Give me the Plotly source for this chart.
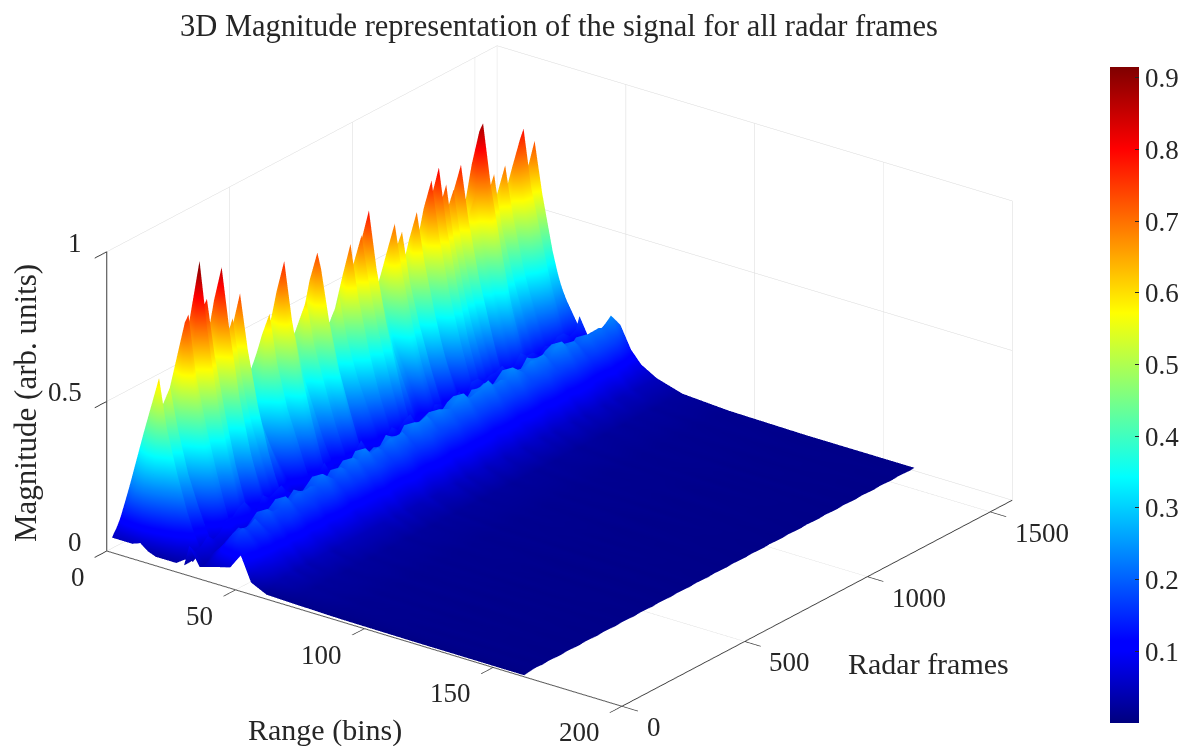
import plotly.graph_objects as go

TITLE = "3D Magnitude representation of the signal for all radar frames"
range_ticks = [0, 50, 100, 150, 200]
frame_ticks = [0, 500, 1000, 1500]
magnitude_ticks = [0, 0.5, 1]
colorbar_ticks = [.1, .2, .3, .4, .5, .6, .7, .8, .9]

# Spiky part of the surface: finer frame spacing
near_bins = [2, 6, 10, 13, 16, 19, 23, 27, 32]
near_frames = list(range(0, 1591, 15))
near_r02 = [.05,.07,.09,.11,.09,.09,.11,.08,.08,.10,
            .12,.12,.10,.12,.14,.12,.12,.10,.10,.11,
            .14,.11,.10,.11,.10,.12,.10,.09,.09,.08,
            .08,.09,.10,.11,.09,.10,.12,.12,.10,.10,
            .10,.09,.10,.11,.10,.10,.12,.12,.10,.08,
            .08,.10,.10,.10,.11,.12,.10,.11,.12,.11,
            .13,.11,.11,.10,.10,.09,.12,.12,.11,.12,
            .10,.09,.11,.12,.10,.10,.11,.13,.11,.14,
            .12,.12,.11,.12,.12,.13,.10,.10,.12,.12,
            .14,.14,.12,.12,.12,.11,.12,.12,.11,.12,
            .12,.13,.13,.12,.12,.12,.09]
near_r06 = [.05,.15,.22,.26,.22,.22,.26,.20,.20,.24,
            .30,.32,.26,.30,.36,.32,.30,.26,.24,.28,
            .36,.28,.26,.28,.26,.30,.26,.22,.22,.20,
            .20,.22,.26,.28,.22,.24,.30,.32,.24,.26,
            .24,.22,.24,.28,.26,.24,.32,.30,.24,.20,
            .20,.24,.26,.24,.28,.30,.26,.28,.32,.28,
            .34,.28,.28,.24,.24,.22,.30,.30,.28,.30,
            .24,.22,.28,.30,.26,.24,.28,.34,.28,.36,
            .30,.32,.28,.32,.30,.34,.26,.26,.30,.30,
            .36,.38,.30,.30,.32,.28,.30,.32,.28,.30,
            .32,.32,.34,.30,.30,.32,.24]
near_r10 = [.05,.22,.30,.40,.32,.34,.40,.32,.30,.38,
            .50,.52,.42,.48,.60,.52,.50,.42,.38,.44,
            .58,.46,.40,.46,.42,.50,.40,.34,.34,.30,
            .28,.34,.42,.44,.34,.36,.48,.52,.38,.40,
            .38,.32,.36,.44,.40,.38,.50,.46,.36,.30,
            .30,.36,.40,.36,.42,.48,.40,.42,.50,.44,
            .54,.42,.42,.36,.36,.34,.46,.48,.42,.46,
            .36,.34,.42,.48,.40,.36,.44,.54,.44,.56,
            .46,.50,.42,.50,.46,.54,.40,.38,.46,.48,
            .58,.60,.46,.46,.48,.42,.46,.48,.42,.46,
            .50,.52,.54,.46,.48,.50,.38]
near_r13 = [.06,.24,.36,.50,.38,.40,.48,.36,.34,.46,
            .62,.66,.50,.60,.76,.66,.64,.50,.44,.54,
            .74,.56,.46,.58,.50,.62,.46,.38,.40,.32,
            .30,.38,.50,.54,.40,.40,.60,.66,.44,.46,
            .44,.36,.40,.52,.46,.44,.64,.58,.40,.34,
            .32,.40,.48,.42,.50,.60,.46,.50,.62,.54,
            .68,.50,.50,.42,.40,.38,.56,.60,.50,.58,
            .40,.38,.50,.60,.46,.40,.52,.68,.52,.70,
            .54,.64,.50,.62,.54,.68,.46,.44,.54,.58,
            .74,.76,.54,.54,.60,.48,.54,.60,.50,.54,
            .62,.66,.68,.54,.58,.62,.44]
near_r16 = [.04,.20,.38,.60,.42,.44,.55,.40,.36,.52,
            .74,.76,.58,.72,.92,.76,.78,.55,.50,.62,
            .86,.66,.52,.67,.56,.74,.52,.40,.43,.36,
            .32,.42,.55,.62,.44,.46,.70,.77,.50,.52,
            .50,.40,.44,.60,.50,.52,.74,.68,.46,.38,
            .36,.44,.55,.44,.58,.71,.52,.58,.72,.62,
            .79,.56,.58,.46,.44,.40,.66,.70,.56,.66,
            .44,.42,.58,.70,.52,.42,.60,.78,.58,.81,
            .60,.74,.56,.71,.60,.78,.52,.48,.62,.66,
            .86,.88,.62,.60,.69,.54,.60,.70,.56,.60,
            .72,.76,.79,.62,.66,.73,.49]
near_r19 = [.03,.14,.28,.44,.30,.34,.42,.28,.26,.40,
            .58,.56,.42,.54,.70,.58,.60,.42,.36,.48,
            .66,.50,.38,.50,.42,.56,.38,.30,.32,.26,
            .24,.32,.42,.46,.32,.36,.54,.58,.38,.40,
            .38,.30,.34,.46,.38,.40,.56,.52,.34,.28,
            .28,.34,.42,.34,.44,.54,.40,.44,.56,.48,
            .60,.42,.44,.34,.34,.32,.50,.54,.42,.50,
            .34,.32,.44,.54,.40,.32,.46,.60,.44,.62,
            .46,.56,.44,.54,.46,.60,.40,.36,.48,.50,
            .66,.68,.48,.46,.52,.42,.46,.54,.44,.46,
            .56,.58,.60,.48,.50,.56,.41]
near_r23 = [.03,.09,.18,.30,.20,.22,.28,.20,.18,.28,
            .38,.40,.30,.36,.46,.40,.42,.30,.26,.32,
            .44,.34,.28,.34,.30,.38,.28,.22,.24,.20,
            .18,.24,.30,.32,.24,.28,.38,.40,.26,.28,
            .28,.22,.26,.34,.28,.30,.40,.36,.26,.22,
            .22,.26,.30,.26,.32,.38,.30,.32,.40,.34,
            .42,.32,.32,.26,.26,.24,.36,.38,.30,.36,
            .26,.24,.32,.38,.30,.24,.34,.42,.32,.44,
            .34,.40,.32,.38,.34,.42,.30,.28,.36,.36,
            .46,.48,.36,.34,.38,.32,.34,.38,.32,.36,
            .40,.42,.44,.36,.36,.38,.30]
near_r27 = [.03,.06,.10,.18,.12,.14,.18,.12,.12,.18,
            .24,.26,.18,.22,.30,.26,.26,.18,.16,.20,
            .28,.22,.18,.22,.20,.24,.18,.14,.16,.14,
            .12,.16,.20,.22,.16,.18,.24,.26,.18,.18,
            .18,.14,.16,.22,.18,.20,.26,.24,.16,.14,
            .14,.18,.20,.18,.20,.24,.20,.22,.26,.22,
            .28,.20,.22,.18,.16,.16,.24,.24,.20,.24,
            .18,.16,.20,.24,.20,.16,.22,.28,.22,.28,
            .22,.26,.22,.24,.22,.28,.20,.18,.24,.24,
            .30,.30,.24,.22,.24,.22,.22,.24,.22,.24,
            .26,.28,.28,.24,.24,.24,.22]
near_r32 = [.06,.04,.05,.06,.05,.05,.07,.05,.06,.07,
            .09,.10,.07,.09,.12,.10,.10,.07,.07,.08,
            .11,.09,.07,.09,.08,.10,.07,.06,.06,.05,
            .05,.06,.08,.09,.06,.07,.10,.10,.07,.07,
            .07,.06,.07,.09,.07,.08,.10,.10,.07,.05,
            .05,.07,.08,.07,.08,.10,.08,.09,.10,.09,
            .11,.08,.09,.07,.06,.06,.10,.10,.08,.10,
            .07,.06,.08,.10,.08,.06,.09,.11,.09,.11,
            .09,.10,.09,.10,.09,.11,.08,.07,.10,.10,
            .12,.12,.10,.09,.10,.09,.09,.10,.09,.10,
            .10,.11,.11,.10,.10,.11,.14]
near_magnitude = [near_r02, near_r06, near_r10, near_r13, near_r16, near_r19, near_r23,
                  near_r27, near_r32]

# Low part of the surface
far_bins = [30, 32, 36, 40, 44, 48, 52, 56, 62, 72, 90, 120, 162]
far_frames = [0, 25, 50, 75, 100, 125, 150, 175, 200, 225, 250, 275, 300,
              325, 350, 375, 400, 425, 450, 475, 500, 525, 550, 575, 600, 625,
              650, 675, 700, 725, 750, 775, 800, 825, 850, 875, 900, 925, 950,
              975, 1000, 1025, 1050, 1075, 1100, 1125, 1150, 1175, 1200, 1225, 1250, 1275,
              1300, 1325, 1350, 1375, 1400, 1425, 1450, 1475, 1500, 1525, 1550, 1575, 1590]
far_r030 = [.03,.03,.04,.04,.03,.04,.04,.03,.04,.04,.03,.04,.04,
            .03,.04,.04,.03,.03,.03,.04,.04,.03,.04,.03,.04,.03,
            .04,.03,.04,.03,.03,.04,.03,.04,.04,.04,.04,.03,.03,
            .03,.04,.04,.03,.04,.04,.03,.04,.04,.04,.04,.04,.04,
            .03,.04,.04,.04,.04,.03,.04,.04,.04,.04,.04,.04,.04]
far_r032 = [.10,.07,.08,.10,.08,.09,.12,.12,.14,.15,.12,.10,.14,
            .12,.13,.14,.11,.09,.08,.11,.12,.11,.14,.10,.11,.09,
            .12,.12,.15,.11,.09,.12,.11,.14,.12,.14,.15,.11,.11,
            .09,.14,.13,.10,.12,.14,.10,.15,.15,.13,.14,.14,.15,
            .12,.13,.16,.14,.14,.12,.14,.13,.15,.15,.13,.14,.18]
far_r036 = [.04,.04,.06,.05,.06,.06,.08,.07,.08,.09,.08,.07,.08,
            .07,.08,.08,.07,.06,.06,.07,.07,.06,.08,.06,.07,.06,
            .07,.07,.08,.07,.06,.07,.07,.08,.07,.08,.08,.07,.07,
            .06,.08,.07,.06,.07,.08,.07,.08,.09,.08,.08,.08,.08,
            .07,.08,.09,.08,.08,.07,.08,.07,.08,.09,.08,.08,.11]
far_r040 = [.05,.08,.10,.09,.11,.10,.12,.11,.12,.13,.12,.11,.12,
            .11,.12,.13,.12,.11,.12,.11,.12,.12,.13,.12,.12,.11,
            .12,.13,.12,.12,.13,.12,.13,.14,.13,.12,.13,.14,.13,
            .12,.13,.14,.13,.12,.13,.14,.13,.14,.13,.14,.13,.14,
            .13,.14,.15,.14,.13,.14,.13,.14,.13,.12,.12,.12,.11]
far_r044 = [.06,.13,.15,.16,.14,.15,.18,.15,.17,.19,.16,.17,.19,
            .16,.18,.20,.17,.16,.19,.18,.20,.17,.21,.18,.18,.19,
            .18,.21,.18,.18,.21,.20,.19,.20,.21,.20,.19,.21,.22,
            .20,.18,.21,.20,.21,.18,.20,.22,.19,.20,.19,.22,.20,
            .19,.21,.22,.19,.20,.18,.20,.19,.19,.18,.18,.16,.15]
far_r048 = [.07,.15,.18,.16,.19,.16,.20,.18,.18,.21,.18,.20,.19,
            .20,.19,.22,.20,.18,.21,.19,.22,.20,.23,.20,.21,.19,
            .22,.21,.22,.19,.23,.22,.23,.20,.23,.22,.21,.23,.24,
            .21,.22,.22,.24,.21,.22,.21,.24,.22,.20,.23,.22,.23,
            .20,.23,.24,.21,.22,.19,.22,.21,.22,.21,.24,.21,.19]
far_r052 = [.12,.12,.14,.13,.15,.14,.15,.14,.16,.16,.15,.15,.16,
            .15,.16,.17,.16,.15,.16,.16,.17,.16,.17,.17,.16,.16,
            .17,.17,.16,.16,.17,.18,.17,.17,.17,.18,.17,.17,.18,
            .17,.17,.17,.18,.17,.17,.17,.18,.17,.17,.17,.18,.17,
            .17,.17,.18,.17,.17,.16,.17,.17,.17,.17,.16,.14,.12]
far_r056 = [.04,.07,.08,.09,.09,.09,.10,.09,.10,.10,.09,.10,.10,
            .09,.10,.10,.10,.09,.10,.10,.10,.10,.11,.10,.10,.10,
            .11,.11,.10,.10,.11,.11,.11,.10,.11,.11,.11,.11,.11,
            .11,.10,.11,.11,.11,.10,.11,.11,.11,.10,.11,.11,.11,
            .10,.11,.11,.11,.10,.10,.10,.11,.10,.10,.09,.09,.08]
far_r062 = [.015,.03,.04,.04,.05,.04,.05,.04,.05,.05,.05,.04,.05,
            .05,.05,.05,.05,.05,.05,.05,.06,.05,.06,.05,.05,.05,
            .06,.05,.05,.06,.06,.05,.06,.05,.06,.06,.05,.06,.06,
            .05,.06,.06,.05,.06,.06,.05,.06,.05,.06,.06,.05,.06,
            .05,.06,.06,.05,.06,.05,.05,.06,.05,.05,.05,.05,.05]
far_r072 = [.012,.018,.022,.024,.022,.025,.023,.026,.024,.022,.026,.024,.025,
            .022,.026,.024,.023,.026,.025,.022,.026,.024,.025,.022,.026,.024,
            .026,.022,.025,.024,.026,.022,.025,.024,.026,.025,.022,.026,.024,
            .025,.022,.026,.024,.022,.025,.026,.024,.022,.026,.025,.024,.022,
            .026,.025,.022,.026,.024,.025,.026,.022,.025,.024,.025,.024,.024]
far_r090 = [.008,.012,.014,.016,.014,.015,.017,.014,.016,.015,.014,.017,.015,
            .014,.016,.015,.017,.014,.016,.015,.014,.017,.015,.016,.014,.015,
            .017,.014,.016,.015,.014,.017,.015,.016,.014,.015,.017,.014,.016,
            .015,.014,.017,.015,.016,.014,.015,.017,.014,.016,.015,.014,.017,
            .015,.014,.016,.015,.014,.016,.015,.014,.016,.015,.014,.015,.014]
far_r120 = [.006,.01,.012,.01,.013,.011,.012,.01,.013,.011,.01,.013,.012,
            .01,.013,.011,.012,.01,.013,.011,.012,.01,.013,.011,.01,.012,
            .013,.01,.012,.011,.013,.01,.012,.011,.01,.013,.012,.01,.011,
            .013,.01,.012,.011,.01,.013,.012,.01,.011,.013,.01,.012,.011,
            .013,.01,.012,.011,.01,.012,.011,.01,.012,.011,.01,.011,.01]
far_r162 = [.005,.008,.01,.008,.01,.009,.008,.01,.009,.008,.01,.009,.008,
            .01,.009,.008,.01,.009,.008,.01,.009,.008,.01,.009,.008,.01,
            .009,.008,.01,.009,.008,.01,.009,.008,.01,.009,.008,.01,.009,
            .008,.01,.009,.008,.01,.009,.008,.01,.009,.008,.01,.009,.008,
            .01,.009,.008,.01,.009,.008,.01,.009,.008,.01,.009,.008,.01]
far_magnitude = [far_r030, far_r032, far_r036, far_r040, far_r044, far_r048, far_r052, far_r056,
                 far_r062, far_r072, far_r090, far_r120, far_r162]

SERIF = "Liberation Serif"
INK = "#262626"
jet = [[0, "#00007f"], [0.11, "#0000ff"], [0.125, "#0000ff"], [0.375, "#00ffff"],
       [0.625, "#ffff00"], [0.875, "#ff0000"], [1, "#7f0000"]]
flat = dict(ambient=1, diffuse=0, specular=0, roughness=1, fresnel=0)

axis_common = dict(showbackground=False, gridcolor="#d9d9d9", gridwidth=1, zeroline=False,
                   showspikes=False, showline=True, linecolor="#3c3c3c", linewidth=2,
                   ticks="outside", ticklen=20, tickcolor="#3c3c3c", tickwidth=2, title_text="",
                   showticklabels=False)

fig = go.Figure()
fig.add_trace(go.Surface(
    x=far_frames, y=far_bins, z=far_magnitude, cmin=0, cmax=0.915, colorscale=jet,
    lighting=flat, hoverinfo="skip", showscale=False))
fig.add_trace(go.Surface(
    x=near_frames, y=near_bins, z=near_magnitude, cmin=0, cmax=0.915, colorscale=jet,
    lighting=flat, hoverinfo="skip",
    colorbar=dict(x=1110/1195, xanchor="left", y=1-67/746, yanchor="top", lenmode="pixels",
                  len=656, thicknessmode="pixels", thickness=29, outlinewidth=0,
                  tickvals=colorbar_ticks, ticks="inside", ticklen=4,
                  tickcolor=INK, xpad=0, ypad=0,
                  tickfont=dict(family=SERIF, size=27, color=INK))))


def label(text, px, py, size, angle=0):
    return dict(text=text, x=px/1195, y=1-py/746, xref="paper", yref="paper", showarrow=False,
                xanchor="center", yanchor="middle", textangle=angle,
                font=dict(family=SERIF, size=size, color=INK))


def tick_label(text, frame, rng, mag, anchor, dx, dy):
    return dict(x=frame, y=rng, z=mag, text=text, showarrow=False, xanchor=anchor,
                yanchor="middle", xshift=dx, yshift=dy,
                font=dict(family=SERIF, size=27, color=INK))


tick_labels = (
    [tick_label(str(r), 0, r, 0, "right", -20, -26) for r in range_ticks]
    + [tick_label(str(f), f, 200, 0, "left", 23, -21) for f in frame_ticks]
    + [tick_label(f"{m:g}", 0, 0, m, "right", -23, 9) for m in magnitude_ticks]
)

fig.update_layout(
    width=1195, height=746, margin=dict(l=0, r=0, t=0, b=0), paper_bgcolor="white",
    showlegend=False,
    scene=dict(
        domain=dict(x=[0, 0.936], y=[0, 0.992]),
        aspectmode="manual", aspectratio=dict(x=1.75, y=1.745, z=0.882),
        xaxis=dict(range=[0, 1590], tickvals=frame_ticks, **axis_common),
        yaxis=dict(range=[200, 0], tickvals=range_ticks, **axis_common),
        zaxis=dict(range=[0, 1], tickvals=magnitude_ticks, **axis_common),
        camera=dict(projection=dict(type="orthographic"), up=dict(x=0, y=0, z=1),
                    center=dict(x=0, y=0, z=0), eye=dict(x=-1.464, y=-1.106, z=0.798)),
        annotations=tick_labels,
    ),
    annotations=[
        label(TITLE, 559, 26, 30.5),
        label("Range (bins)", 325, 730, 30),
        label("Radar frames", 928, 663, 30),
        label("Magnitude (arb. units)", 25, 403, 31, -90),
    ],
)
fig.write_html("out.html", config=dict(displayModeBar=False),
               post_script="document.body.style.margin='0';")
